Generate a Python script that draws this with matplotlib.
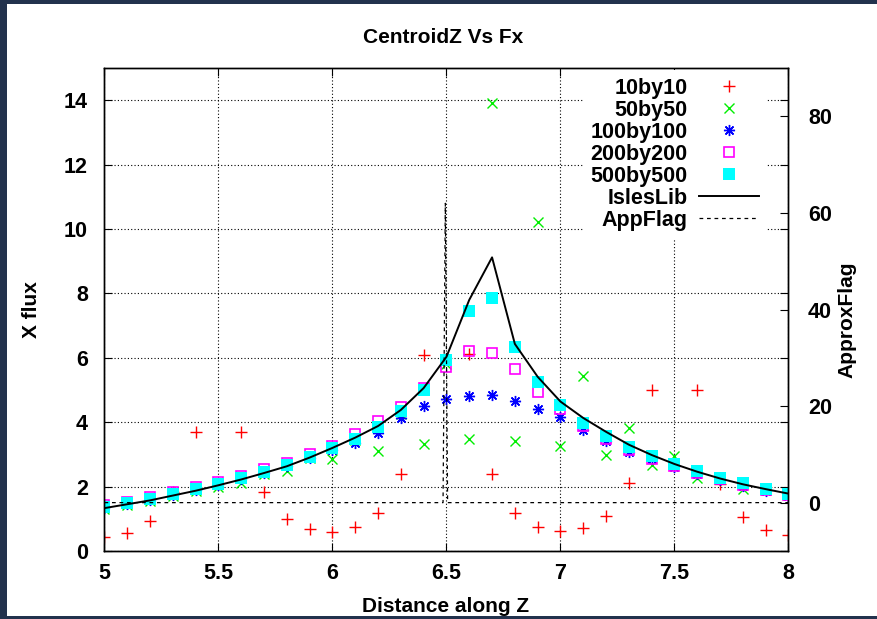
import matplotlib
matplotlib.use("Agg")
import matplotlib.pyplot as plt
from matplotlib.patches import Rectangle
from matplotlib.ticker import FuncFormatter
import numpy as np

plt.rcParams['font.family'] = ['Liberation Sans', 'DejaVu Sans']
plt.rcParams['font.weight'] = 'bold'

# distance along Z
z = [5.0, 5.1, 5.2, 5.3, 5.4, 5.5, 5.6, 5.7, 5.8, 5.9,
     6.0, 6.1, 6.2, 6.3, 6.4, 6.5, 6.6, 6.7, 6.8, 6.9,
     7.0, 7.1, 7.2, 7.3, 7.4, 7.5, 7.6, 7.7, 7.8, 7.9, 8.0]

fx_10 = [0.44, 0.57, 0.93, 1.82, 3.69, np.nan, 3.70, 1.82, 0.98, 0.67,
         0.58, 0.75, 1.18, 2.40, 6.10, np.nan, 6.12, 2.40, 1.18, 0.75,
         0.62, 0.71, 1.10, 2.10, 5.00, np.nan, 5.00, 2.08, 1.05, 0.65, 0.50]
fx_50 = [1.30, 1.42, 1.55, 1.70, 1.85, 2.00, 2.10, 2.40, 2.48, 2.88,
         2.85, 3.45, 3.10, 4.25, 3.32, 5.80, 3.47, 13.90, 3.43, 10.23,
         3.26, 5.44, 2.98, 3.83, 2.67, 2.95, 2.26, 2.25, 1.92, 1.90, 1.75]
fx_100 = [1.33, 1.45, 1.59, 1.74, 1.90, 2.05, 2.22, 2.42, 2.63, 2.88,
          3.13, 3.34, 3.67, 4.12, 4.51, 4.72, 4.81, 4.84, 4.67, 4.41,
          4.17, 3.76, 3.40, 3.08, 2.84, 2.60, 2.40, 2.20, 2.02, 1.87, 1.72]
fx_200 = [1.42, 1.53, 1.67, 1.83, 1.99, 2.15, 2.33, 2.53, 2.74, 3.00,
          3.26, 3.62, 4.04, 4.48, 5.05, 5.72, 6.21, 6.14, 5.66, 4.94,
          4.41, 3.88, 3.48, 3.15, 2.87, 2.63, 2.42, 2.22, 2.04, 1.89, 1.74]
fx_500 = [1.36, 1.48, 1.62, 1.77, 1.93, 2.08, 2.26, 2.46, 2.67, 2.93,
          3.19, 3.48, 3.86, 4.36, 5.00, 5.92, 7.44, 7.87, 6.34, 5.24,
          4.52, 3.97, 3.57, 3.22, 2.94, 2.69, 2.47, 2.27, 2.10, 1.93, 1.78]
isles = [1.33, 1.45, 1.57, 1.72, 1.87, 2.04, 2.22, 2.42, 2.63, 2.90,
         3.20, 3.52, 3.88, 4.38, 5.06, 6.03, 7.80, 9.12, 6.43, 5.41,
         4.64, 4.13, 3.70, 3.30, 2.98, 2.70, 2.46, 2.25, 2.07, 1.92, 1.78]

# approx flag (right axis)
flag_z = [5.0, 6.485, 6.495, 6.505, 8.0]
flag = [0, 0, 62, 0, 0]

fig = plt.figure(figsize=(8.78, 6.19), dpi=100, facecolor='#22324d')
fig.patches.append(Rectangle((7 / 878, 3 / 619), 1, 1 - 7 / 619,
                             transform=fig.transFigure, facecolor='white',
                             edgecolor='none', zorder=-10))

ax = fig.add_axes([0.119, 0.110, 0.779, 0.780])
ax2 = ax.twinx()

h1, = ax.plot(z, fx_10, linestyle='none', marker='+', color='#ff0000',
              markersize=8, markeredgewidth=1.0, label='10by10')
h2, = ax.plot(z, fx_50, linestyle='none', marker='x', color='#00ee00',
              markersize=7, markeredgewidth=1.0, label='50by50')
h3, = ax.plot(z, fx_100, linestyle='none', marker=(8, 2, 0), color='#0000ff',
              markersize=8, markeredgewidth=1.0, label='100by100')
h4, = ax.plot(z, fx_200, linestyle='none', marker='s', markerfacecolor='none',
              markeredgecolor='#ff00ff', markersize=7, markeredgewidth=1.2,
              label='200by200')
h5, = ax.plot(z, fx_500, linestyle='none', marker='s', color='#00ffff',
              markersize=8.5, markeredgewidth=0, label='500by500')
h6, = ax.plot(z, isles, color='black', linewidth=1.4, label='IslesLib')
h7, = ax2.plot(flag_z, flag, color='black', linewidth=0.9,
               linestyle=(0, (3, 3)), label='AppFlag')

ax.set_xlim(5, 8)
ax.set_ylim(0, 15)
ax2.set_ylim(-10, 90)
ax.set_xticks(np.arange(5, 8.01, 0.5))
ax.set_yticks(np.arange(0, 14.1, 2))
ax2.set_yticks(np.arange(0, 81, 20))
ax.xaxis.set_major_formatter(FuncFormatter(lambda v, p: '%g' % v))

ax.grid(True, color='black', linestyle=(0, (1, 2)), linewidth=0.8)
ax.tick_params(direction='in', length=6, width=0.8, top=True, right=True,
               labelsize=15.5, pad=9)
ax.tick_params(axis='y', pad=12)
ax2.tick_params(direction='in', length=6, width=0.8, labelsize=15.5, pad=14)
for a in (ax, ax2):
    for s in a.spines.values():
        s.set_linewidth(1.0)
        s.set_color('black')

fig.text(0.505, 0.940, 'CentroidZ Vs Fx', ha='center', va='center', fontsize=15)
fig.text(0.508, 0.021, 'Distance along Z', ha='center', va='center', fontsize=15)
fig.text(0.036, 0.500, 'X flux', ha='center', va='center', rotation=90, fontsize=15)
fig.text(0.965, 0.483, 'ApproxFlag', ha='center', va='center', rotation=90, fontsize=15)

leg = ax2.legend(handles=[h1, h2, h3, h4, h5, h6, h7], loc='upper right',
                 bbox_to_anchor=(767 / 878, 1 - 70 / 619),
                 bbox_transform=fig.transFigure, markerfirst=False,
                 frameon=True, fancybox=False, borderpad=0.35,
                 borderaxespad=0, labelspacing=0.05, handlelength=2.8,
                 handletextpad=0.55, fontsize=15.5)
leg.get_frame().set_facecolor('white')
leg.get_frame().set_edgecolor('none')
leg.get_frame().set_alpha(1)
for t in leg.get_texts():
    t.set_ha('right')
leg._legend_box.align = 'right'

fig.savefig('out.png', dpi=100, facecolor=fig.get_facecolor())
